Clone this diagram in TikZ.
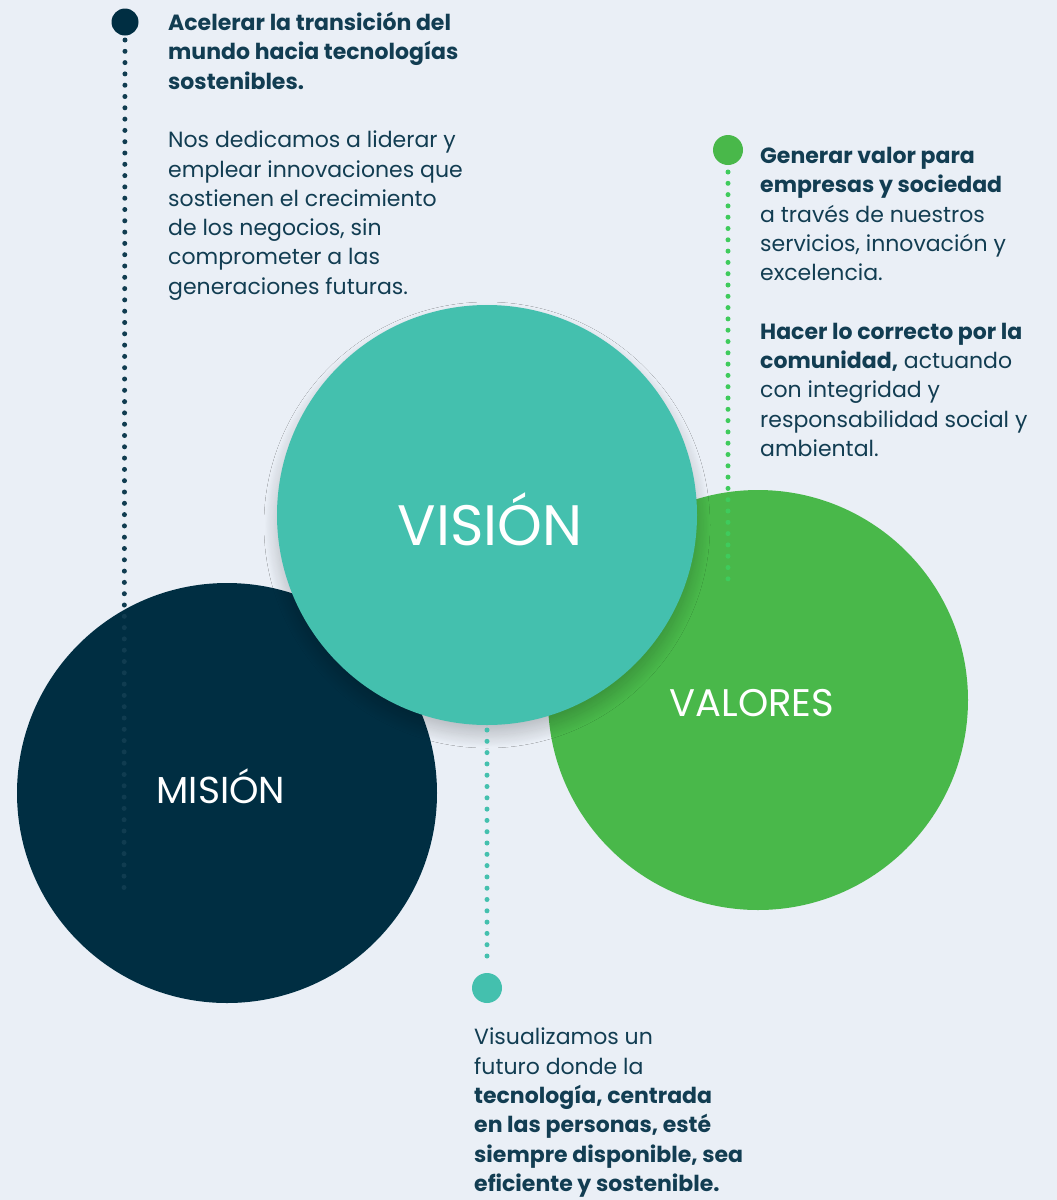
\documentclass[tikz,border=0pt]{standalone}
\usepackage{fontspec}
\setmainfont{Poppins}
\usetikzlibrary{positioning, shadows.blur}
\definecolor{bgcol}{HTML}{EAEFF6}
\definecolor{navy}{HTML}{002E42}
\definecolor{txtcol}{HTML}{123D52}
\definecolor{teal}{HTML}{44C0AE}
\definecolor{leaf}{HTML}{49B84A}
\definecolor{leafdot}{HTML}{3FCB5C}
\tikzset{
  bigcircle/.style={circle, minimum size=420pt, inner sep=0pt, text=white},
  bulletdot/.style={circle, minimum size=#1, inner sep=0pt},
  dotline/.style={line width=5pt, line cap=round, dash pattern=on 0pt off 11.3pt},
  textblock/.style={anchor=north west, align=left, inner sep=0pt, text=txtcol,
    font=\fontsize{22}{29.3}\selectfont}
}
\begin{document}
\begin{tikzpicture}[x=1pt, y=-1pt]
\fill[bgcol] (0,0) rectangle (1057,1200);
\useasboundingbox (0,0) rectangle (1057,1200);
% circles
\node[bigcircle, fill=navy] (mision) at (227,793) {};
\node[text=white, font=\fontsize{37.5}{37.5}\selectfont] at (221,786) {MISIÓN};
\node[bigcircle, fill=leaf] (valores) at (758,700) {};
\node[text=white, font=\fontsize{38.5}{38.5}\selectfont] at (752,703) {VALORES};
\node[bigcircle, fill=teal,
  blur shadow={shadow xshift=0pt, shadow yshift=-10pt, shadow blur radius=13pt,
    shadow blur steps=30, shadow opacity=22}] (vision) at (487,515) {};
\node[text=white, font=\fontsize{57}{57}\selectfont] at (490,519) {VISIÓN};
% dotted leaders
\node[bulletdot=27pt, fill=navy] (mdot) at (125,22) {};
\coordinate (mend) at (124,895);
\draw[dotline, draw=txtcol!90!navy] ([yshift=-18pt]mdot.center) -- (mend);
\node[bulletdot=30pt, fill=leaf] (vdot) at (728,150) {};
\coordinate (vend) at (728,580);
\draw[dotline, draw=leafdot] ([yshift=-22pt]vdot.center) -- (vend);
\node[bulletdot=30pt, fill=teal] (sdot) at (487,988) {};
\coordinate (send) at (487,730);
\draw[dotline, draw=teal] (send) -- ([yshift=22pt]sdot.center);
% texts
\node[textblock] (mtext) at (168,12) {\textbf{Acelerar la transición del}\\ \textbf{mundo hacia tecnologías}\\ \textbf{sostenibles.}\\[29.3pt] Nos dedicamos a liderar y\\ emplear innovaciones que\\ sostienen el crecimiento\\ de los negocios, sin\\ comprometer a las\\ generaciones futuras.};
\node[textblock] (vtext) at (760,147) {\textbf{Generar valor para}\\ \textbf{empresas y sociedad}\\ a través de nuestros\\ servicios, innovación y\\ excelencia.\\[29.3pt] \textbf{Hacer lo correcto por la}\\ \textbf{comunidad,} actuando\\ con integridad y\\ responsabilidad social y\\ ambiental.};
\node[textblock] (stext) at (474,1028) {Visualizamos un\\ futuro donde la\\ \textbf{tecnología, centrada}\\ \textbf{en las personas, esté}\\ \textbf{siempre disponible, sea}\\ \textbf{eficiente y sostenible.}};
\end{tikzpicture}
\end{document}
